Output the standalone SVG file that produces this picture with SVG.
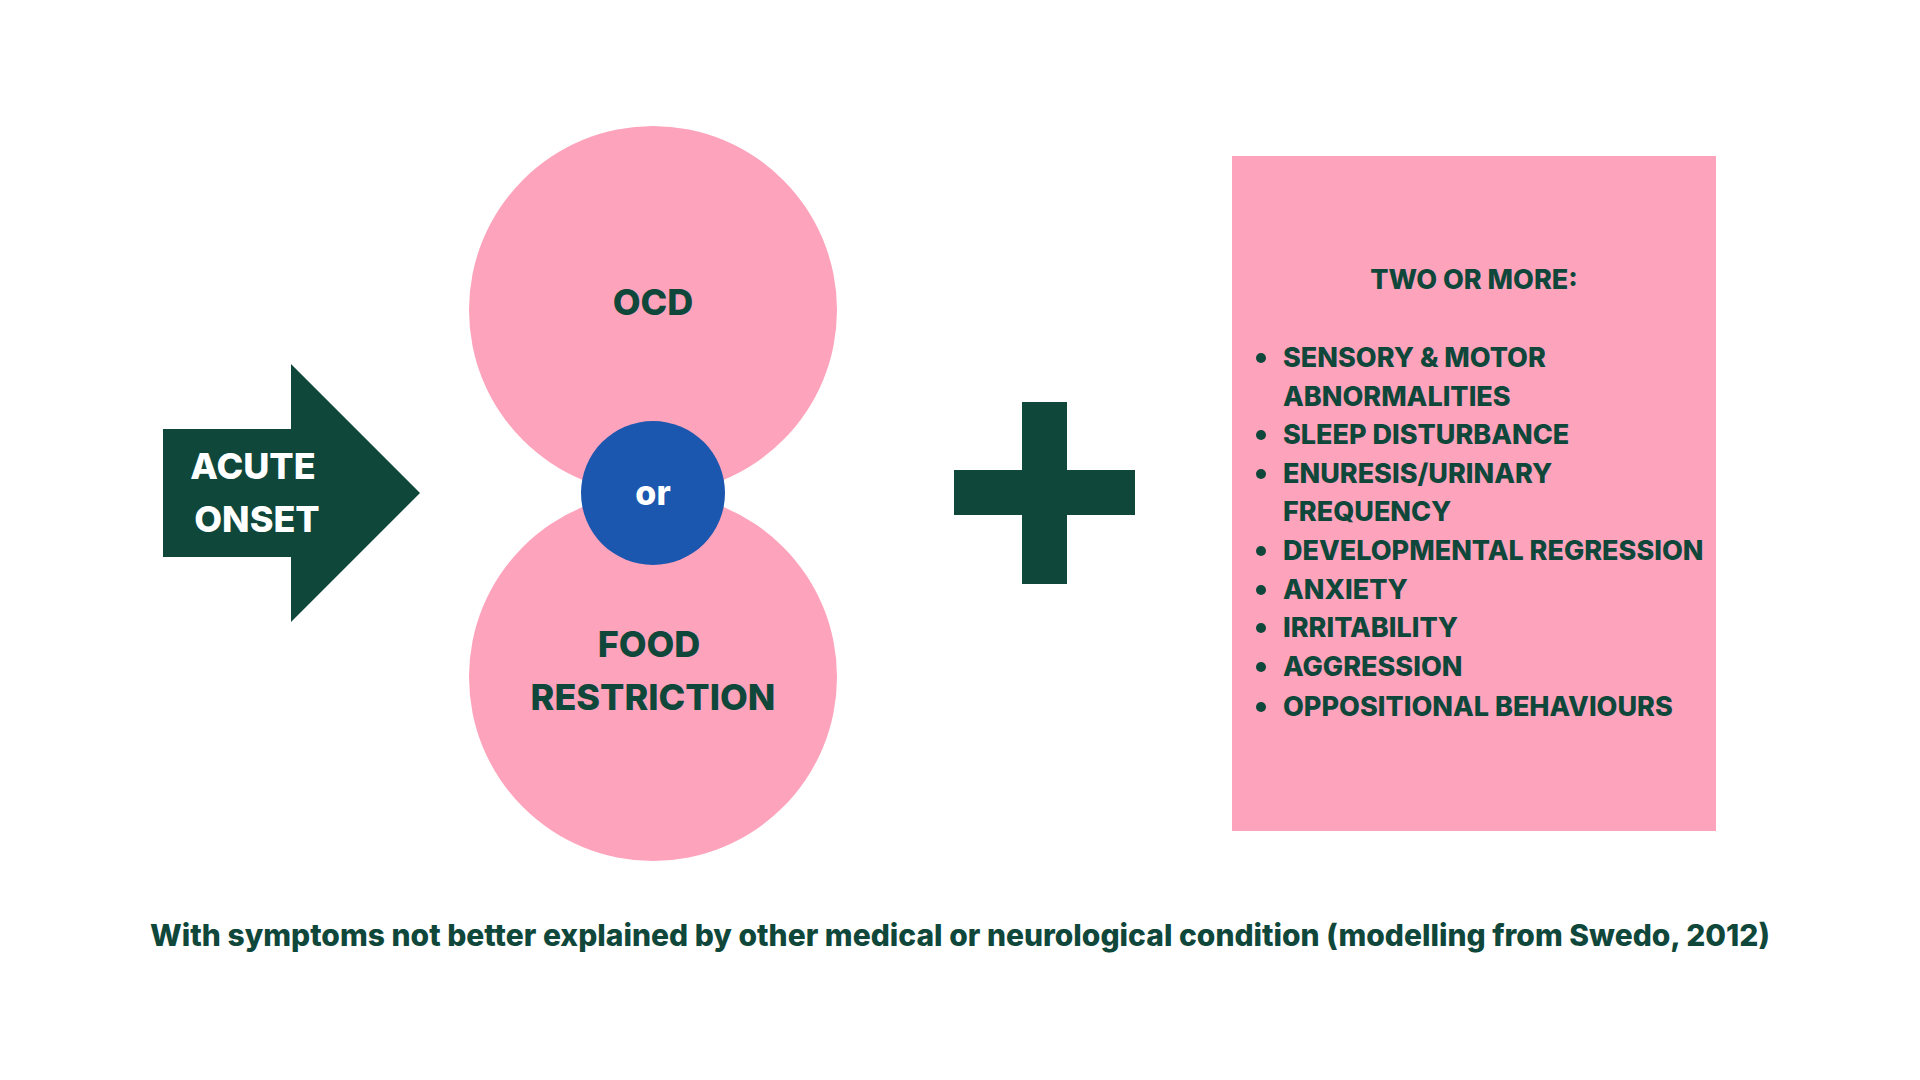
<svg xmlns="http://www.w3.org/2000/svg" width="1920" height="1080" viewBox="0 0 1920 1080">
<style>
.t{font-family:Inter,"Open Sans","Liberation Sans",sans-serif;font-weight:800;fill:#10473b}
.w{fill:#ffffff}
.c{text-anchor:middle}
.li{font-size:27px}
</style>
<rect width="1920" height="1080" fill="#ffffff"/>
<g id="acute-onset">
<polygon points="163,429 291,429 291,364 420,493 291,622 291,557 163,557" fill="#10473b"/>
<text class="t w c" x="253" y="479" font-size="36">ACUTE</text>
<text class="t w c" x="257" y="532" font-size="36">ONSET</text>
</g>
<g id="ocd">
<circle cx="653" cy="310" r="184" fill="#fea3bc"/>
<text class="t c" x="653" y="315" font-size="36">OCD</text>
</g>
<g id="food-restriction">
<circle cx="653" cy="677" r="184" fill="#fea3bc"/>
<text class="t c" x="649" y="657" font-size="36">FOOD</text>
<text class="t c" x="653" y="710" font-size="36">RESTRICTION</text>
</g>
<g id="or">
<circle cx="653" cy="493" r="72" fill="#1b57ae"/>
<text class="t w c" x="653" y="505" font-size="34">or</text>
</g>
<g id="plus">
<rect x="1022" y="402" width="45" height="182" fill="#10473b"/>
<rect x="954" y="470" width="181" height="45" fill="#10473b"/>
</g>
<g id="symptoms">
<rect x="1232" y="156" width="484" height="675" fill="#fea3bc"/>
<text class="t c" x="1474" y="289" font-size="27">TWO OR MORE:</text>
<g class="t li">
<text x="1283" y="367">SENSORY &amp; MOTOR</text>
<text x="1283" y="406">ABNORMALITIES</text>
<text x="1283" y="444">SLEEP DISTURBANCE</text>
<text x="1283" y="483">ENURESIS/URINARY</text>
<text x="1283" y="521">FREQUENCY</text>
<text x="1283" y="560">DEVELOPMENTAL REGRESSION</text>
<text x="1283" y="599">ANXIETY</text>
<text x="1283" y="637">IRRITABILITY</text>
<text x="1283" y="676">AGGRESSION</text>
<text x="1283" y="716">OPPOSITIONAL BEHAVIOURS</text>
</g>
<g fill="#10473b">
<circle cx="1261" cy="358" r="5"/>
<circle cx="1261" cy="435" r="5"/>
<circle cx="1261" cy="474" r="5"/>
<circle cx="1261" cy="551" r="5"/>
<circle cx="1261" cy="590" r="5"/>
<circle cx="1261" cy="628" r="5"/>
<circle cx="1261" cy="667" r="5"/>
<circle cx="1261" cy="707" r="5"/>
</g>
</g>
<text class="t c" x="960" y="946" font-size="30">With symptoms not better explained by other medical or neurological condition (modelling from Swedo, 2012)</text>
</svg>
